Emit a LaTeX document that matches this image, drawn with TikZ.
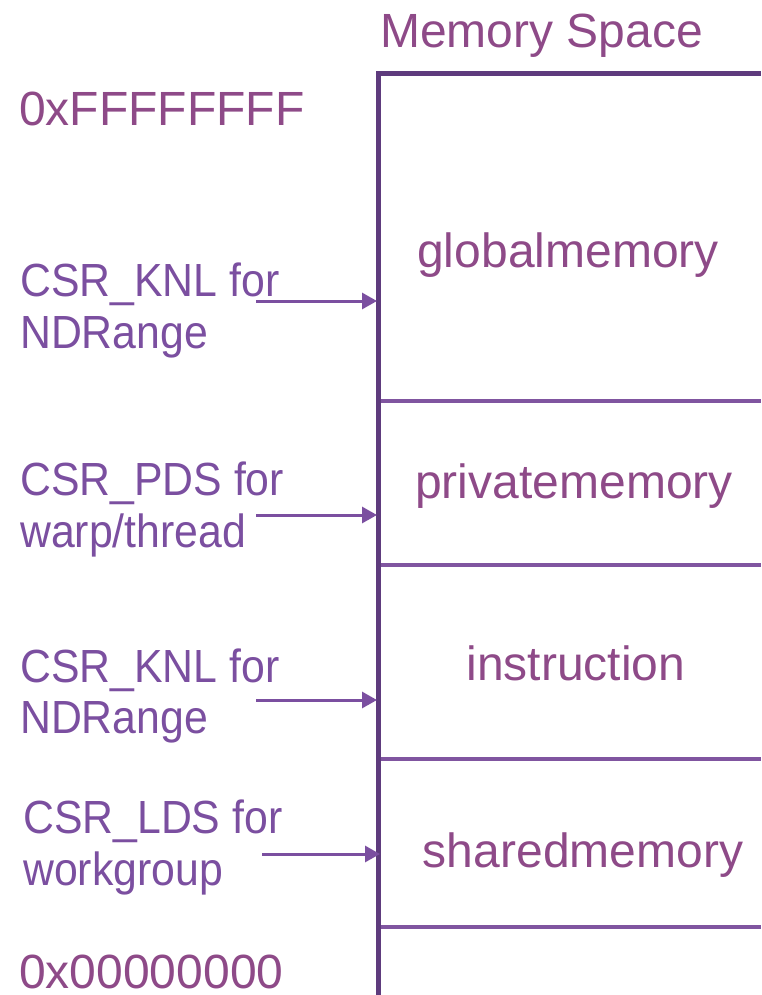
\documentclass[tikz,border=0pt]{standalone}
\usepackage{fontspec}
\setmainfont{Liberation Sans}
\newfontfamily\narrowsans[FakeStretch=0.92]{Liberation Sans}
\usetikzlibrary{arrows.meta}
\definecolor{txtmag}{HTML}{8E4A88}
\definecolor{txtlab}{HTML}{7B4FA0}
\definecolor{framec}{HTML}{5E3B7D}
\definecolor{divc}{HTML}{8055A0}
\tikzset{
  big/.style={font=\fontsize{48}{56}\selectfont, text=txtmag, inner sep=0pt},
  lab/.style={font=\narrowsans\fontsize{46.5}{51.6}\selectfont, text=txtlab, inner sep=0pt, anchor=base west},
  ptr/.style={draw=txtlab, line width=3pt, -{Triangle[length=15pt,width=16pt]}},
  frame/.style={draw=framec, line width=5pt},
  divider/.style={draw=divc, line width=4pt}
}
\begin{document}
\begin{tikzpicture}[x=1pt,y=-1pt]
\useasboundingbox (0,0) rectangle (761,995);
% frame
\coordinate (fb) at (378.5,995);
\coordinate (ftr) at (761,73.5);
\draw[frame] (fb) -- (378.5,73.5) -- (ftr);
% dividers
\foreach \n/\y in {d1/400.5,d2/565,d3/759,d4/927.3}{
  \coordinate (\n a) at (381,\y);
  \coordinate (\n b) at (761,\y);
  \draw[divider] (\n a) -- (\n b);
}
% titles
\node[big, anchor=base west] (title) at (380,48) {Memory Space};
\node[big, anchor=base west] (hi) at (19,125.5) {0xFFFFFFFF};
\node[big, anchor=base west] (lo) at (19,988) {0x00000000};
% region labels
\node[big, anchor=base] (glob) at (568,267) {globalmemory};
\node[big, anchor=base] (priv) at (574,498) {privatememory};
\node[big, anchor=base] (inst) at (576,680) {instruction};
\node[big, anchor=base] (shrd) at (583,867) {sharedmemory};
% left labels
\node[lab] (l1a) at (20,296.7) {CSR\_KNL for};
\node[lab] (l1b) at (20,348.3) {NDRange};
\node[lab] (l2a) at (20,495.5) {CSR\_PDS for};
\node[lab] (l2b) at (20,547) {warp/thread};
\node[lab] (l3a) at (20,682) {CSR\_KNL for};
\node[lab] (l3b) at (20,733.6) {NDRange};
\node[lab] (l4a) at (23,833.3) {CSR\_LDS for};
\node[lab] (l4b) at (23,885) {workgroup};
% arrows
\coordinate (a1s) at (256,301); \coordinate (a1e) at (377,301);
\coordinate (a2s) at (256,515); \coordinate (a2e) at (377,515);
\coordinate (a3s) at (256,700); \coordinate (a3e) at (377,700);
\coordinate (a4s) at (262,854); \coordinate (a4e) at (380,854);
\draw[ptr] (a1s) -- (a1e);
\draw[ptr] (a2s) -- (a2e);
\draw[ptr] (a3s) -- (a3e);
\draw[ptr] (a4s) -- (a4e);
\end{tikzpicture}
\end{document}
